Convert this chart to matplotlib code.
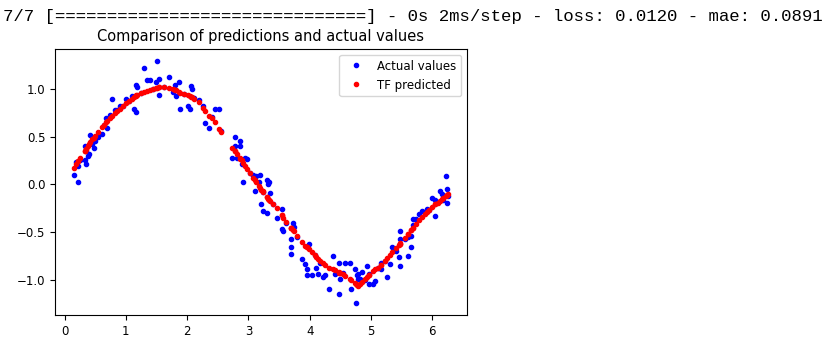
#!/usr/bin/env python3
import numpy as np
from matplotlib import pyplot as plt

''' Scatter of the test set against what the TF model predicted for it,
with the last line of the keras training log printed above. '''

# Test inputs (sorted), the noisy sine targets, and the model output
x_test = [0.15, 0.19, 0.22, 0.22, 0.26, 0.33, 0.33, 0.35, 0.35, 0.38,
          0.40, 0.42, 0.45, 0.48, 0.50, 0.55, 0.61, 0.64, 0.68, 0.70,
          0.74, 0.77, 0.82, 0.86, 0.90, 0.95, 1.01, 1.05, 1.10, 1.13,
          1.16, 1.17, 1.19, 1.25, 1.30, 1.35, 1.40, 1.45, 1.50, 1.51,
          1.54, 1.54, 1.62, 1.70, 1.77, 1.80, 1.82, 1.86, 1.89, 1.95,
          2.02, 2.05, 2.07, 2.08, 2.12, 2.19, 2.26, 2.29, 2.36, 2.40,
          2.45, 2.52, 2.55, 2.74, 2.78, 2.78, 2.81, 2.86, 2.87, 2.89,
          2.91, 2.94, 2.97, 3.02, 3.08, 3.10, 3.13, 3.17, 3.19, 3.21,
          3.23, 3.24, 3.30, 3.30, 3.32, 3.33, 3.35, 3.40, 3.46, 3.54,
          3.54, 3.57, 3.62, 3.70, 3.70, 3.70, 3.73, 3.74, 3.80, 3.87,
          3.92, 3.95, 3.95, 3.98, 4.03, 4.08, 4.11, 4.14, 4.17, 4.22,
          4.25, 4.32, 4.38, 4.41, 4.47, 4.48, 4.49, 4.54, 4.58, 4.66,
          4.68, 4.74, 4.75, 4.77, 4.78, 4.79, 4.82, 4.85, 4.90, 4.93,
          4.96, 4.96, 5.04, 5.07, 5.12, 5.17, 5.17, 5.22, 5.26, 5.31,
          5.34, 5.40, 5.46, 5.47, 5.47, 5.48, 5.56, 5.61, 5.61, 5.66,
          5.66, 5.69, 5.69, 5.74, 5.79, 5.83, 5.88, 5.91, 5.95, 5.99,
          6.05, 6.05, 6.10, 6.13, 6.16, 6.18, 6.23, 6.24, 6.24, 6.26]

y_actual = [0.10, 0.23, 0.19, 0.02, 0.26, 0.40, 0.25, 0.21, 0.35, 0.30,
            0.32, 0.52, 0.42, 0.38, 0.45, 0.50, 0.53, 0.62, 0.69, 0.59,
            0.73, 0.89, 0.78, 0.78, 0.82, 0.82, 0.89, 0.87, 0.92, 0.79,
            0.76, 1.04, 1.02, 0.96, 1.22, 1.09, 1.09, 1.00, 1.07, 1.29,
            1.10, 0.94, 1.02, 1.12, 0.97, 1.04, 0.92, 1.07, 0.79, 0.95,
            0.82, 0.79, 1.03, 1.00, 0.90, 0.88, 0.82, 0.64, 0.59, 0.70,
            0.79, 0.79, 0.56, 0.28, 0.50, 0.40, 0.28, 0.45, 0.40, 0.21,
            0.02, 0.28, 0.27, 0.12, 0.10, -0.07, 0.09, 0.03, 0.10, -0.21,
            -0.08, -0.28, 0.05, -0.30, 0.00, 0.03, -0.09, -0.20, -0.35, -0.26,
            -0.47, -0.49, -0.40, -0.57, -0.66, -0.73, -0.40, -0.45, -0.55, -0.78,
            -0.83, -0.89, -0.95, -0.62, -0.95, -0.74, -0.87, -0.94, -0.82, -0.97,
            -0.95, -1.09, -0.75, -0.94, -1.15, -0.82, -0.99, -0.93, -0.82, -0.82,
            -1.09, -0.89, -1.24, -0.95, -0.99, -0.94, -0.99, -0.92, -1.00, -0.85,
            -0.94, -1.04, -1.04, -1.01, -0.87, -0.82, -0.89, -0.80, -0.97, -0.83,
            -0.66, -0.70, -0.76, -0.85, -0.49, -0.57, -0.57, -0.55, -0.75, -0.66,
            -0.54, -0.43, -0.36, -0.36, -0.31, -0.28, -0.29, -0.26, -0.27, -0.14,
            -0.16, -0.33, -0.18, -0.07, -0.10, -0.16, 0.09, -0.05, -0.19, -0.12]

y_predicted = [0.17, 0.21, 0.24, 0.24, 0.28, 0.35, 0.35, 0.37, 0.37, 0.40,
               0.42, 0.44, 0.47, 0.49, 0.51, 0.55, 0.60, 0.62, 0.65, 0.66,
               0.69, 0.72, 0.75, 0.77, 0.79, 0.82, 0.85, 0.87, 0.89, 0.91,
               0.92, 0.93, 0.94, 0.96, 0.97, 0.98, 0.99, 1.00, 1.01, 1.01,
               1.02, 1.02, 1.02, 1.01, 1.00, 0.99, 0.99, 0.97, 0.96, 0.95,
               0.93, 0.92, 0.91, 0.91, 0.89, 0.86, 0.80, 0.77, 0.72, 0.69,
               0.65, 0.58, 0.55, 0.38, 0.35, 0.35, 0.32, 0.28, 0.27, 0.25,
               0.22, 0.19, 0.16, 0.12, 0.07, 0.05, 0.02, -0.02, -0.04, -0.06,
               -0.07, -0.08, -0.13, -0.13, -0.15, -0.16, -0.17, -0.21, -0.25, -0.32,
               -0.32, -0.35, -0.39, -0.46, -0.46, -0.46, -0.48, -0.49, -0.54, -0.60,
               -0.64, -0.66, -0.66, -0.68, -0.71, -0.74, -0.76, -0.78, -0.80, -0.82,
               -0.84, -0.87, -0.89, -0.90, -0.92, -0.93, -0.93, -0.94, -0.96, -0.99,
               -1.00, -1.03, -1.04, -1.05, -1.05, -1.06, -1.04, -1.02, -0.99, -0.97,
               -0.95, -0.95, -0.91, -0.89, -0.87, -0.84, -0.84, -0.80, -0.77, -0.74,
               -0.71, -0.67, -0.63, -0.62, -0.62, -0.61, -0.56, -0.52, -0.52, -0.48,
               -0.48, -0.46, -0.46, -0.41, -0.37, -0.34, -0.31, -0.29, -0.27, -0.24,
               -0.21, -0.21, -0.19, -0.17, -0.15, -0.14, -0.12, -0.11, -0.11, -0.10]

log_line = '7/7 [==============================] - 0s 2ms/step - loss: 0.0120 - mae: 0.0891'


def init_image():
    fig = plt.figure(figsize=(8.32, 3.46), dpi=100)
    fig.text(0.004, 0.975, log_line, family='Liberation Mono', fontsize=12.5,
             va='top', ha='left')
    ax = fig.add_axes([0.0661, 0.0896, 0.4952, 0.7688])
    ax.tick_params(labelsize=8.5)
    return fig, ax


if __name__ == '__main__':
    fig, ax = init_image()
    ax.plot(x_test, y_actual, 'b.', label='Actual values')
    ax.plot(x_test, y_predicted, 'r.', label='TF predicted')
    ax.set_title('Comparison of predictions and actual values', fontsize=10.5)
    ax.legend(fontsize=8.5)
    fig.savefig('out.png', dpi=100)
